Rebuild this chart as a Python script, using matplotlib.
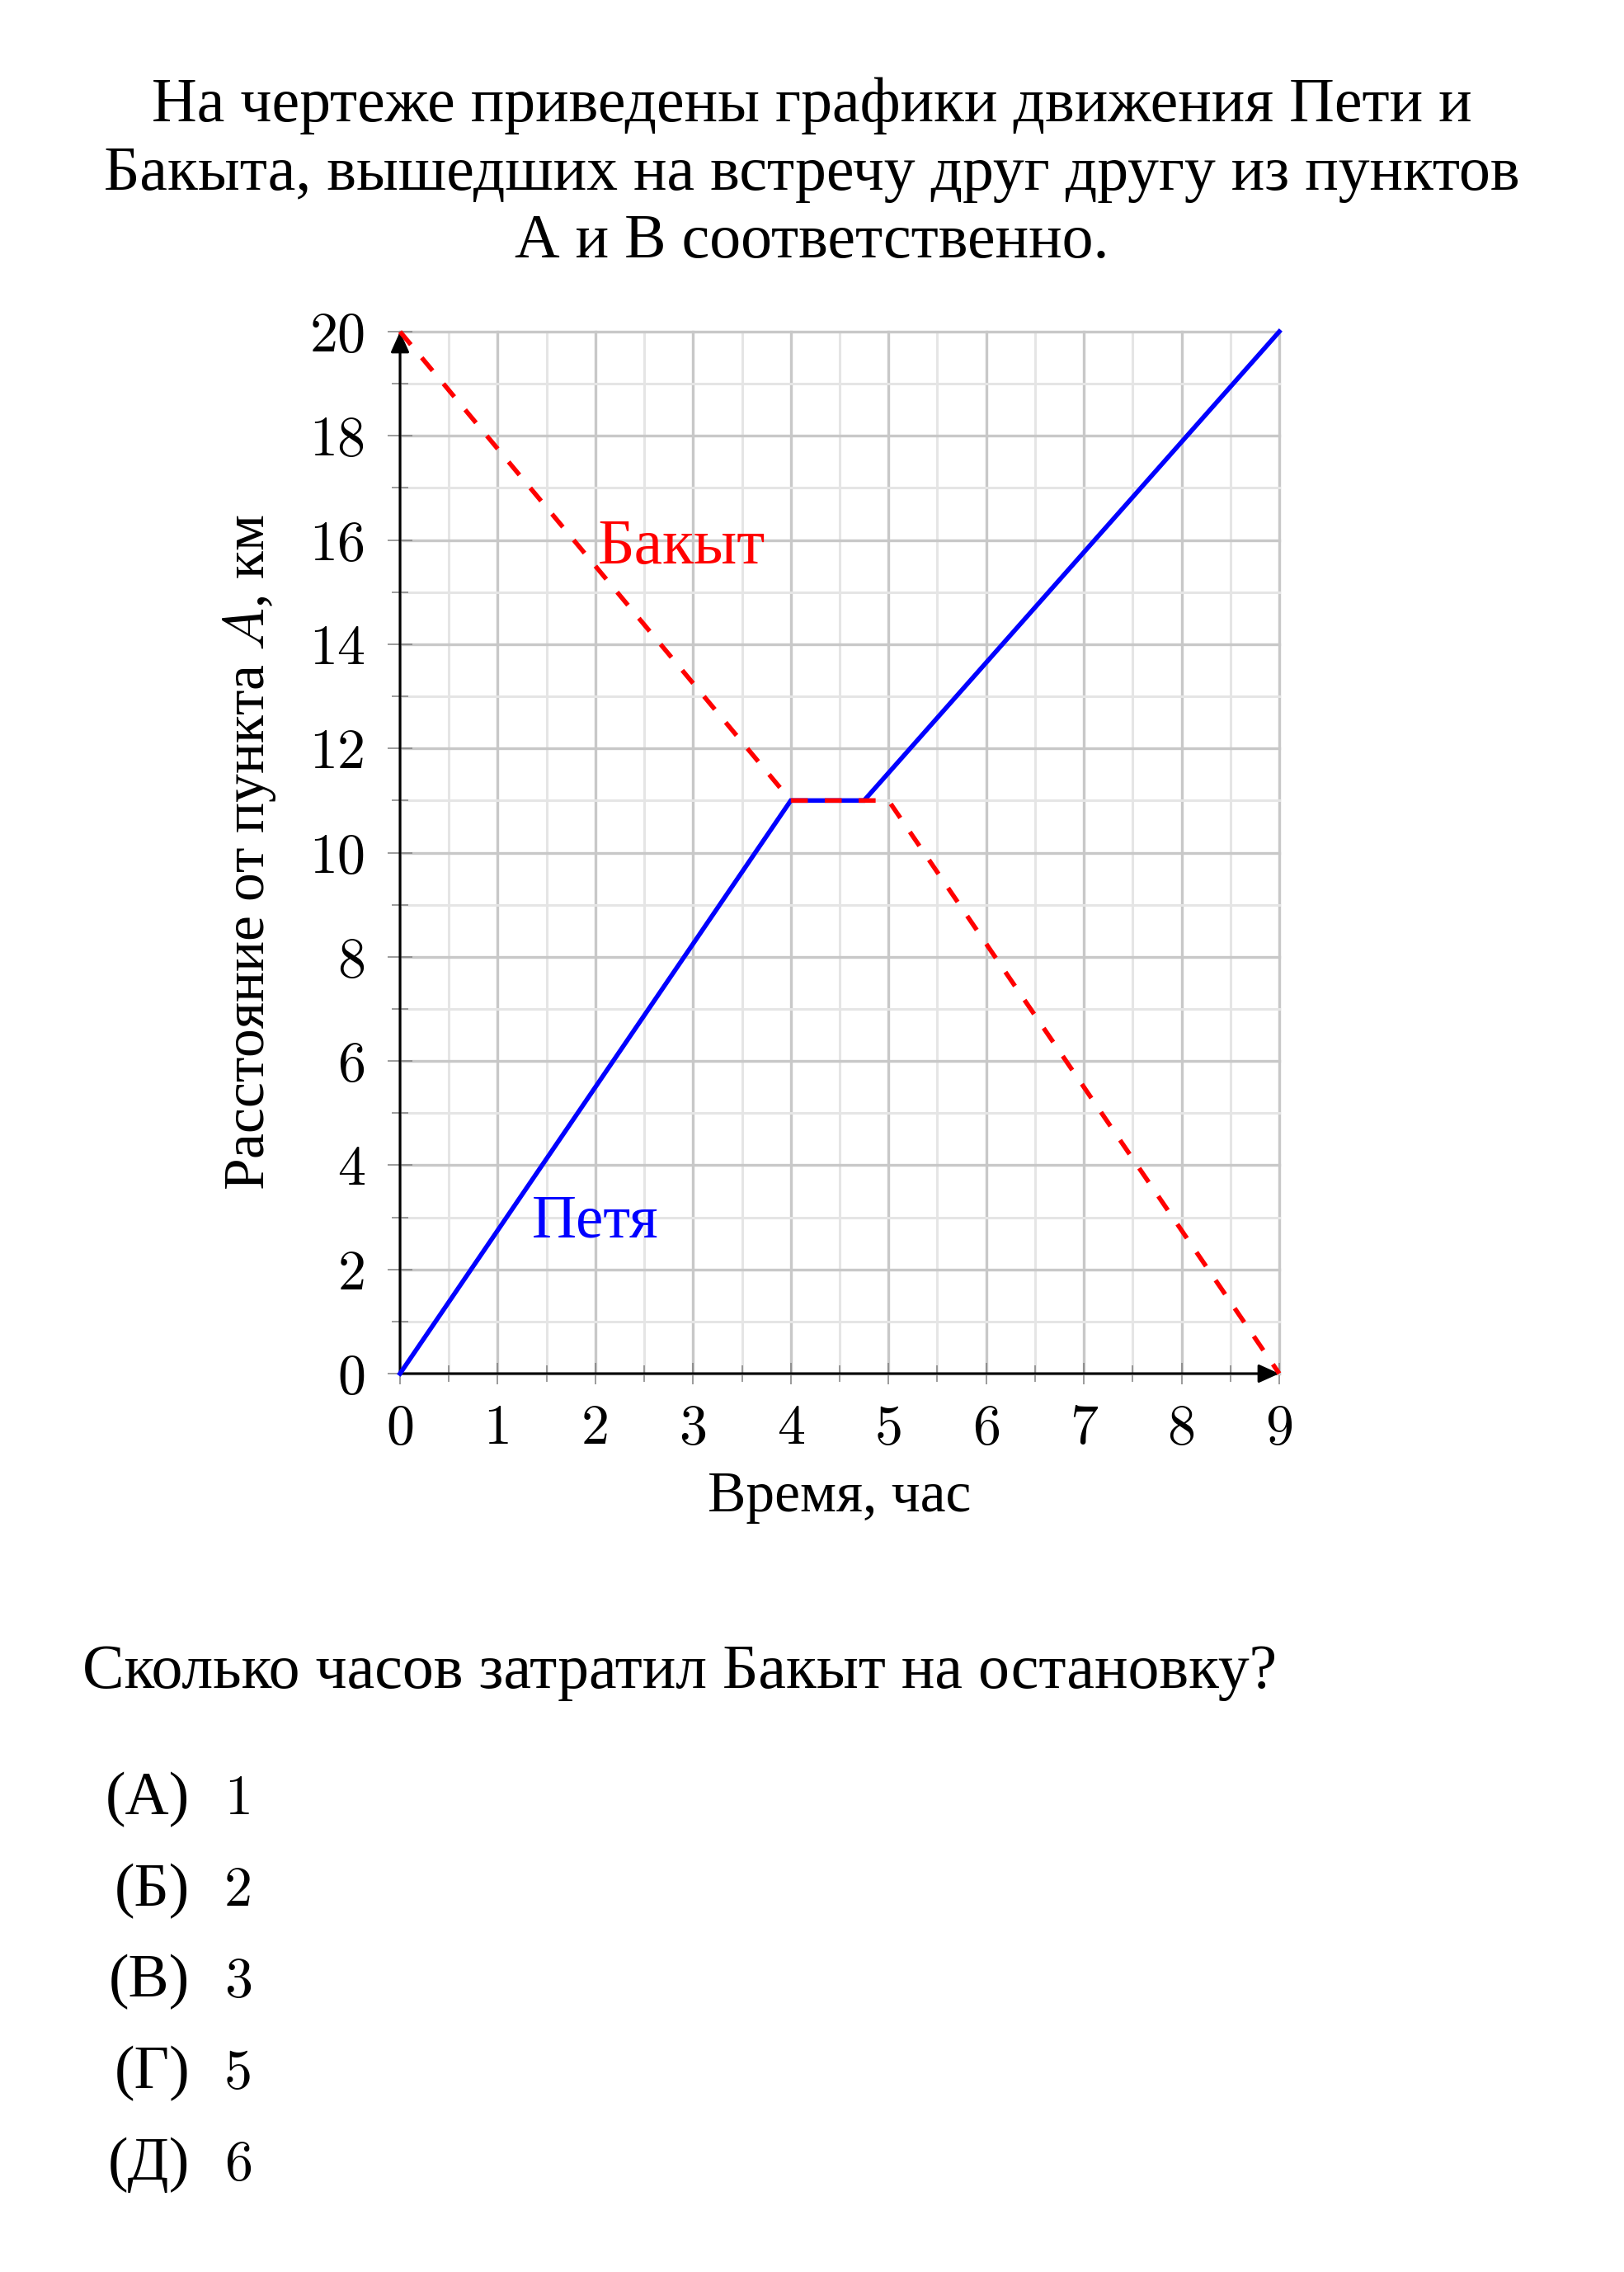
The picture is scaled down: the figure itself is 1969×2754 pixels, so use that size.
import matplotlib
matplotlib.use("Agg")
import matplotlib.pyplot as plt
from matplotlib.ticker import MultipleLocator

plt.rcParams['font.family'] = ['cmr10', 'Liberation Serif']
plt.rcParams['mathtext.fontset'] = 'cm'
plt.rcParams['axes.unicode_minus'] = False

# ---- data ----
petya_t = [0, 4, 4.75, 9]
petya_d = [0, 11, 11, 20]
bakyt_t = [0, 4, 5, 9]
bakyt_d = [20, 11, 11, 0]
x_ticks = [0, 1, 2, 3, 4, 5, 6, 7, 8, 9]
y_ticks = [0, 2, 4, 6, 8, 10, 12, 14, 16, 18, 20]
title_lines = ["На чертеже приведены графики движения Пети и",
               "Бакыта, вышедших на встречу друг другу из пунктов",
               "А и В соответственно."]
question = "Сколько часов затратил Бакыт на остановку?"
option_labels = ["(А)", "(Б)", "(В)", "(Г)", "(Д)"]
option_values = ["1", "2", "3", "5", "6"]

W, H = 1969, 2754
FS = 49      # digits (cmr10)
FST = 54.5   # title / question (Liberation Serif is narrower than CM)
FSA = 50     # axis labels
SERIF = 'Liberation Serif'
fig = plt.figure(figsize=(W / 100, H / 100), dpi=100)

def fx(px):
    return px / W

def fy(py):
    return 1 - py / H

ax = fig.add_axes([fx(485), fy(1665), 1066 / W, 1263 / H])
ax.set_xlim(0, 9)
ax.set_ylim(0, 20)
for s in ax.spines.values():
    s.set_visible(False)

ax.xaxis.set_minor_locator(MultipleLocator(0.5))
ax.yaxis.set_minor_locator(MultipleLocator(1))
ax.set_xticks(x_ticks)
ax.set_xticklabels([str(v) for v in x_ticks])
ax.set_yticks(y_ticks)
ax.set_yticklabels([str(v) for v in y_ticks])
ax.grid(which='major', color='#c8c8c8', lw=2.4, clip_on=False, zorder=0)
ax.grid(which='minor', color='#e5e5e5', lw=2.2, clip_on=False, zorder=0)
ax.set_axisbelow(True)

ax.tick_params(axis='x', which='major', direction='inout', length=19.4, width=1.1,
               color='#808080', labelsize=FS, pad=17)
ax.tick_params(axis='x', which='minor', direction='inout', length=13.7, width=1.1,
               color='#808080')
ax.tick_params(axis='y', which='major', direction='inout', length=21.6, width=1.1,
               color='#808080', labelsize=FS, pad=19)
ax.tick_params(axis='y', which='minor', direction='inout', length=14.4, width=1.1,
               color='#808080')

# axes arrows
arrow = dict(arrowstyle='-|>,head_length=0.4,head_width=0.18', lw=2.2, color='black',
             mutation_scale=38, shrinkA=0, shrinkB=0)
ax.annotate('', xy=(9, 0), xytext=(0, 0), arrowprops=arrow, annotation_clip=False, zorder=3)
ax.annotate('', xy=(0, 20), xytext=(0, 0), arrowprops=arrow, annotation_clip=False, zorder=3)

ax.plot(petya_t, petya_d, color='#0000ff', lw=4.0, clip_on=False, zorder=4,
        solid_joinstyle='miter')
ax.plot(bakyt_t, bakyt_d, color='#ff0000', lw=4.0, clip_on=False, zorder=5,
        dashes=[3.7, 3.7])

ax.text(2.02, 15.85, "Бакыт", color='#ff0000', fontsize=56, ha='left', va='center',
        family=SERIF)
ax.text(1.35, 2.9, "Петя", color='#0000ff', fontsize=54, ha='left', va='center',
        family=SERIF)

ax.text(0.5, -0.132, "Время, час", transform=ax.transAxes, fontsize=FSA,
        ha='center', va='baseline', family=SERIF)
ax.text(-0.171, 0.5, "Расстояние от пункта $A$, км", transform=ax.transAxes,
        fontsize=FSA, ha='center', va='center', rotation=90, family=SERIF)

for yb, line in zip([147, 230, 312], title_lines):
    fig.text(0.5, fy(yb), line, fontsize=FST, ha='center', va='baseline', family=SERIF)

fig.text(fx(100), fy(2046), question, fontsize=FST, ha='left', va='baseline', family=SERIF)
for yb, lab, val in zip([2199, 2310, 2420, 2531, 2642], option_labels, option_values):
    fig.text(fx(230), fy(yb), lab, fontsize=53, ha='right', va='baseline', family=SERIF)
    fig.text(fx(272), fy(yb), val, fontsize=FS, ha='left', va='baseline')

fig.savefig("out.png", dpi=100, facecolor='white')
